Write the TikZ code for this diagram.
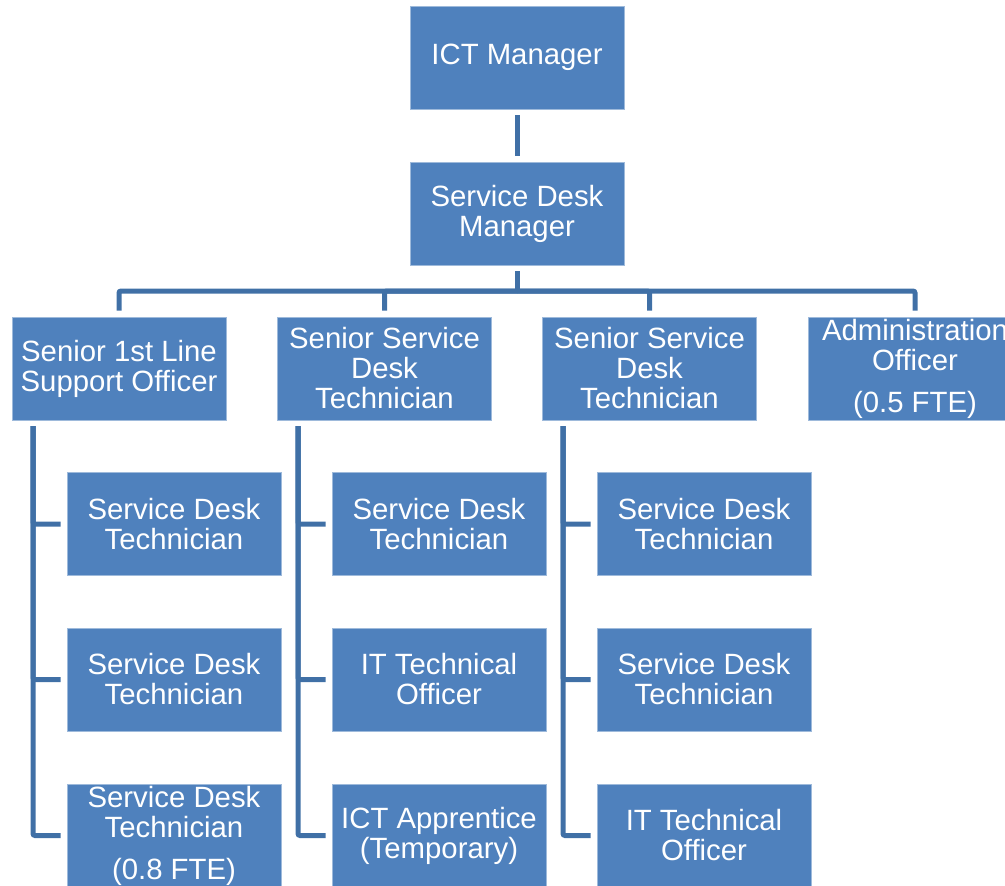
\documentclass[tikz,border=0pt]{standalone}
\usepackage{fontspec}
\setmainfont{Liberation Sans}
\usetikzlibrary{positioning}
\definecolor{boxBlue}{RGB}{79,129,189}
\definecolor{lineBlue}{RGB}{64,112,166}
\tikzset{
    orgBox/.style={
        ,   rectangle
        ,   fill=boxBlue
        ,   draw=boxBlue!55!white
        ,   line width=0.4pt
        ,   minimum width=160.5pt
        ,   minimum height=77.25pt
        ,   inner sep=0pt
        ,   text=white
        ,   align=center
        ,   font={\fontsize{22pt}{22.5pt}\selectfont}
    },
    orgLine/.style={
        ,   draw=lineBlue
        ,   line width=3.75pt
        ,   rounded corners=1.5pt
    }
}

\begin{document}
\begin{tikzpicture}[x=0.75pt, y=-0.75pt]
	\useasboundingbox (0,0) rectangle (1005,885);
	\clip (0,0) rectangle (1005,885);

	% managers
	\node[orgBox] (ict) at (517,57.5) {ICT Manager};
	\node[orgBox] (sdm) at (517,213.5) {Service Desk\\Manager};
	\draw[orgLine, shorten <=4.5pt, shorten >=4.5pt] (ict) -- (sdm);

	% second level
	\node[orgBox] (sl)  at (119,368.5)   {Senior 1st Line\\Support Officer};
	\node[orgBox] (sd1) at (384.5,368.5) {Senior Service\\Desk\\Technician};
	\node[orgBox] (sd2) at (649.5,368.5) {Senior Service\\Desk\\Technician};
	\node[orgBox] (adm) at (915,368.5)   {Administration\\Officer\\[9pt](0.5 FTE)};

	\coordinate (bus) at (517,291);
	\draw[orgLine, shorten <=4.5pt] (sdm) -- (bus);
	\foreach \n in {sl,sd1,sd2,adm}{
	\draw[orgLine, shorten >=4.5pt] (bus) -| (\n);
	}

	% third level
	\node[orgBox] (sl-a)  at (174,524)   {Service Desk\\Technician};
	\node[orgBox] (sl-b)  at (174,679.5) {Service Desk\\Technician};
	\node[orgBox] (sl-c)  at (174,835.5) {Service Desk\\Technician\\[9pt](0.8 FTE)};

	\node[orgBox] (sd1-a) at (439,524)   {Service Desk\\Technician};
	\node[orgBox] (sd1-b) at (439,679.5) {IT Technical\\Officer};
	\node[orgBox] (sd1-c) at (439,835.5) {ICT Apprentice\\(Temporary)};

	\node[orgBox] (sd2-a) at (704,524)   {Service Desk\\Technician};
	\node[orgBox] (sd2-b) at (704,679.5) {Service Desk\\Technician};
	\node[orgBox] (sd2-c) at (704,835.5) {IT Technical\\Officer};

	% spines under the senior posts
	\coordinate (sl-top)  at (33,426);
	\coordinate (sd1-top) at (298,426);
	\coordinate (sd2-top) at (563,426);
	\foreach \p in {sl,sd1,sd2}{
	\foreach \c in {a,b,c}{
	\draw[orgLine, shorten >=4.5pt] (\p-top) |- (\p-\c);
	}
	}
\end{tikzpicture}
\end{document}
